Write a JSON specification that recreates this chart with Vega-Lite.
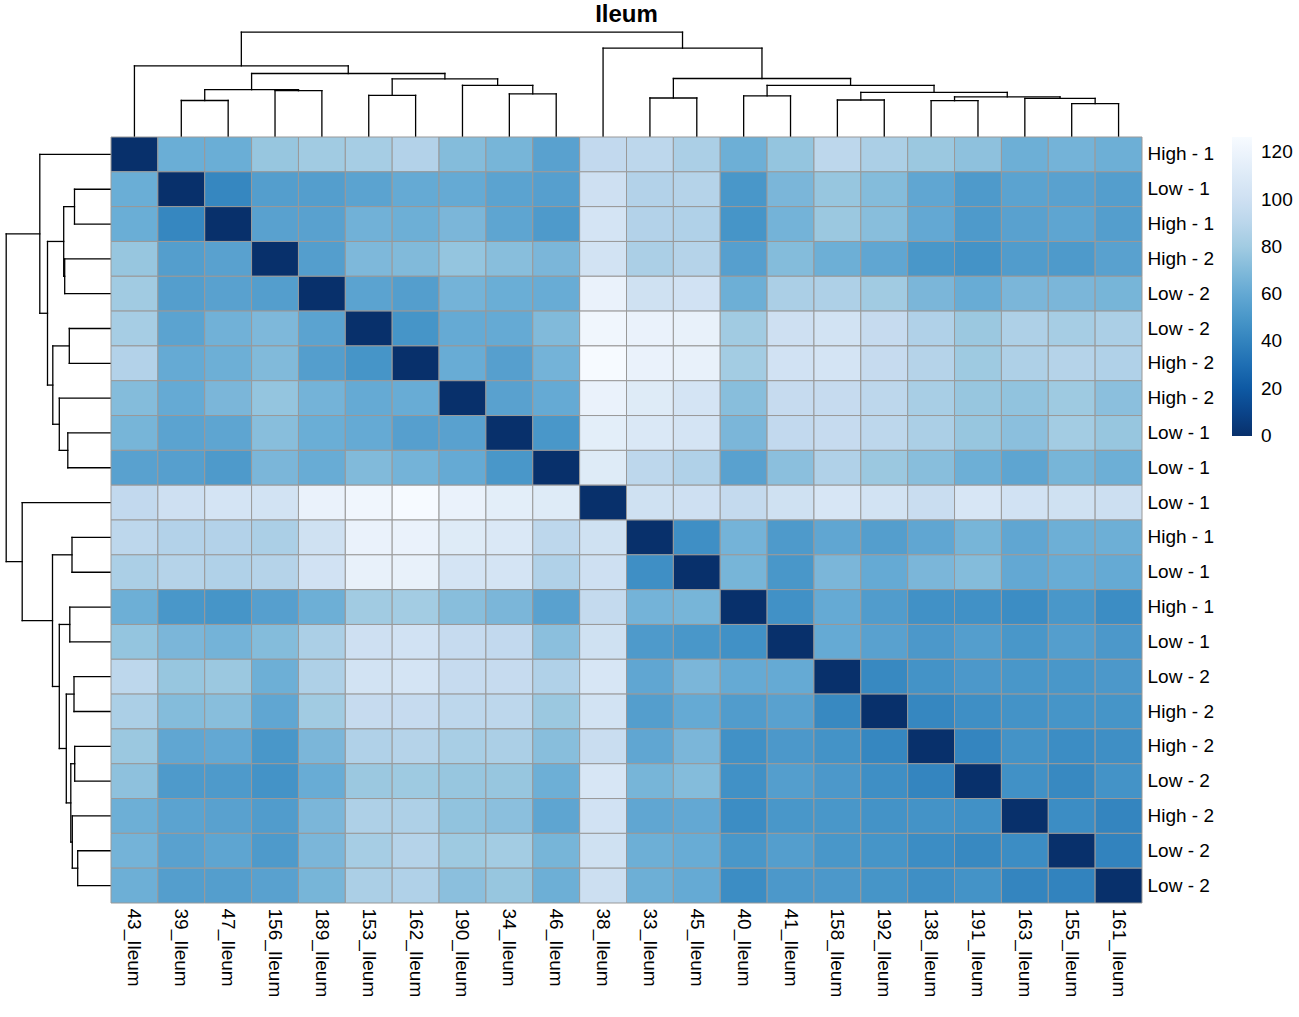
{
"$schema": "https://vega.github.io/schema/vega-lite/v6.json",
"padding": {"left": 5, "top": 3, "right": 0, "bottom": 0},
"config": {"view": {"stroke": null}, "concat": {"spacing": 0}, "font": "Liberation Sans"},
"spacing": 0,
"bounds": "flush",
"columns": 2,
"datasets": {
"tree": [
{"a":1.5,"ha":0,"b":2.5,"hb":0,"h":36.5},
{"a":3.5,"ha":0,"b":4.5,"hb":0,"h":46.3},
{"a":2,"ha":36.5,"b":4,"hb":46.3,"h":47.3},
{"a":5.5,"ha":0,"b":6.5,"hb":0,"h":41.7},
{"a":8.5,"ha":0,"b":9.5,"hb":0,"h":43.2},
{"a":7.5,"ha":0,"b":9,"hb":43.2,"h":51.7},
{"a":6,"ha":41.7,"b":8.25,"hb":51.7,"h":58.2},
{"a":3,"ha":47.3,"b":7.125,"hb":58.2,"h":63.5},
{"a":0.5,"ha":0,"b":5.0625,"hb":63.5,"h":71.2},
{"a":11.5,"ha":0,"b":12.5,"hb":0,"h":39},
{"a":13.5,"ha":0,"b":14.5,"hb":0,"h":41.2},
{"a":15.5,"ha":0,"b":16.5,"hb":0,"h":37},
{"a":17.5,"ha":0,"b":18.5,"hb":0,"h":36.3},
{"a":20.5,"ha":0,"b":21.5,"hb":0,"h":33.3},
{"a":19.5,"ha":0,"b":21,"hb":33.3,"h":38.7},
{"a":18,"ha":36.3,"b":20.25,"hb":38.7,"h":40.2},
{"a":16,"ha":37,"b":19.125,"hb":40.2,"h":44.7},
{"a":14,"ha":41.2,"b":17.5625,"hb":44.7,"h":51.7},
{"a":12,"ha":39,"b":15.78125,"hb":51.7,"h":58.5},
{"a":10.5,"ha":0,"b":13.890625,"hb":58.5,"h":88.8},
{"a":2.78125,"ha":71.2,"b":12.1953125,"hb":88.8,"h":104.8}
],
"cells": [
{"r":0,"c":0,"v":0},{"r":0,"c":1,"v":63},{"r":0,"c":2,"v":63},{"r":0,"c":3,"v":77},{"r":0,"c":4,"v":80},{"r":0,"c":5,"v":82},{"r":0,"c":6,"v":87},{"r":0,"c":7,"v":71},{"r":0,"c":8,"v":67},{"r":0,"c":9,"v":56},{"r":0,"c":10,"v":93},{"r":0,"c":11,"v":91},{"r":0,"c":12,"v":84},{"r":0,"c":13,"v":64},{"r":0,"c":14,"v":76},{"r":0,"c":15,"v":91},{"r":0,"c":16,"v":84},{"r":0,"c":17,"v":78},{"r":0,"c":18,"v":74},{"r":0,"c":19,"v":64},{"r":0,"c":20,"v":66},{"r":0,"c":21,"v":64},
{"r":1,"c":0,"v":63},{"r":1,"c":1,"v":0},{"r":1,"c":2,"v":42},{"r":1,"c":3,"v":54},{"r":1,"c":4,"v":54},{"r":1,"c":5,"v":57},{"r":1,"c":6,"v":61},{"r":1,"c":7,"v":61},{"r":1,"c":8,"v":57},{"r":1,"c":9,"v":55},{"r":1,"c":10,"v":100},{"r":1,"c":11,"v":87},{"r":1,"c":12,"v":88},{"r":1,"c":13,"v":50},{"r":1,"c":14,"v":68},{"r":1,"c":15,"v":77},{"r":1,"c":16,"v":71},{"r":1,"c":17,"v":59},{"r":1,"c":18,"v":52},{"r":1,"c":19,"v":57},{"r":1,"c":20,"v":56},{"r":1,"c":21,"v":54},
{"r":2,"c":0,"v":63},{"r":2,"c":1,"v":42},{"r":2,"c":2,"v":0},{"r":2,"c":3,"v":56},{"r":2,"c":4,"v":56},{"r":2,"c":5,"v":65},{"r":2,"c":6,"v":64},{"r":2,"c":7,"v":68},{"r":2,"c":8,"v":58},{"r":2,"c":9,"v":52},{"r":2,"c":10,"v":104},{"r":2,"c":11,"v":87},{"r":2,"c":12,"v":86},{"r":2,"c":13,"v":49},{"r":2,"c":14,"v":66},{"r":2,"c":15,"v":78},{"r":2,"c":16,"v":72},{"r":2,"c":17,"v":60},{"r":2,"c":18,"v":52},{"r":2,"c":19,"v":56},{"r":2,"c":20,"v":58},{"r":2,"c":21,"v":54},
{"r":3,"c":0,"v":77},{"r":3,"c":1,"v":54},{"r":3,"c":2,"v":56},{"r":3,"c":3,"v":0},{"r":3,"c":4,"v":54},{"r":3,"c":5,"v":69},{"r":3,"c":6,"v":70},{"r":3,"c":7,"v":76},{"r":3,"c":8,"v":72},{"r":3,"c":9,"v":68},{"r":3,"c":10,"v":103},{"r":3,"c":11,"v":84},{"r":3,"c":12,"v":88},{"r":3,"c":13,"v":55},{"r":3,"c":14,"v":71},{"r":3,"c":15,"v":64},{"r":3,"c":16,"v":59},{"r":3,"c":17,"v":50},{"r":3,"c":18,"v":48},{"r":3,"c":19,"v":53},{"r":3,"c":20,"v":52},{"r":3,"c":21,"v":56},
{"r":4,"c":0,"v":80},{"r":4,"c":1,"v":54},{"r":4,"c":2,"v":56},{"r":4,"c":3,"v":54},{"r":4,"c":4,"v":0},{"r":4,"c":5,"v":57},{"r":4,"c":6,"v":54},{"r":4,"c":7,"v":66},{"r":4,"c":8,"v":63},{"r":4,"c":9,"v":62},{"r":4,"c":10,"v":118},{"r":4,"c":11,"v":101},{"r":4,"c":12,"v":102},{"r":4,"c":13,"v":64},{"r":4,"c":14,"v":84},{"r":4,"c":15,"v":85},{"r":4,"c":16,"v":80},{"r":4,"c":17,"v":68},{"r":4,"c":18,"v":62},{"r":4,"c":19,"v":68},{"r":4,"c":20,"v":68},{"r":4,"c":21,"v":67},
{"r":5,"c":0,"v":82},{"r":5,"c":1,"v":57},{"r":5,"c":2,"v":65},{"r":5,"c":3,"v":69},{"r":5,"c":4,"v":57},{"r":5,"c":5,"v":0},{"r":5,"c":6,"v":49},{"r":5,"c":7,"v":61},{"r":5,"c":8,"v":61},{"r":5,"c":9,"v":70},{"r":5,"c":10,"v":122},{"r":5,"c":11,"v":118},{"r":5,"c":12,"v":117},{"r":5,"c":13,"v":80},{"r":5,"c":14,"v":100},{"r":5,"c":15,"v":103},{"r":5,"c":16,"v":95},{"r":5,"c":17,"v":86},{"r":5,"c":18,"v":78},{"r":5,"c":19,"v":85},{"r":5,"c":20,"v":82},{"r":5,"c":21,"v":84},
{"r":6,"c":0,"v":87},{"r":6,"c":1,"v":61},{"r":6,"c":2,"v":64},{"r":6,"c":3,"v":70},{"r":6,"c":4,"v":54},{"r":6,"c":5,"v":49},{"r":6,"c":6,"v":0},{"r":6,"c":7,"v":62},{"r":6,"c":8,"v":55},{"r":6,"c":9,"v":66},{"r":6,"c":10,"v":126},{"r":6,"c":11,"v":118},{"r":6,"c":12,"v":117},{"r":6,"c":13,"v":81},{"r":6,"c":14,"v":102},{"r":6,"c":15,"v":104},{"r":6,"c":16,"v":95},{"r":6,"c":17,"v":88},{"r":6,"c":18,"v":79},{"r":6,"c":19,"v":85},{"r":6,"c":20,"v":88},{"r":6,"c":21,"v":86},
{"r":7,"c":0,"v":71},{"r":7,"c":1,"v":61},{"r":7,"c":2,"v":68},{"r":7,"c":3,"v":76},{"r":7,"c":4,"v":66},{"r":7,"c":5,"v":61},{"r":7,"c":6,"v":62},{"r":7,"c":7,"v":0},{"r":7,"c":8,"v":56},{"r":7,"c":9,"v":61},{"r":7,"c":10,"v":118},{"r":7,"c":11,"v":111},{"r":7,"c":12,"v":104},{"r":7,"c":13,"v":72},{"r":7,"c":14,"v":95},{"r":7,"c":15,"v":95},{"r":7,"c":16,"v":91},{"r":7,"c":17,"v":83},{"r":7,"c":18,"v":77},{"r":7,"c":19,"v":75},{"r":7,"c":20,"v":79},{"r":7,"c":21,"v":73},
{"r":8,"c":0,"v":67},{"r":8,"c":1,"v":57},{"r":8,"c":2,"v":58},{"r":8,"c":3,"v":72},{"r":8,"c":4,"v":63},{"r":8,"c":5,"v":61},{"r":8,"c":6,"v":55},{"r":8,"c":7,"v":56},{"r":8,"c":8,"v":0},{"r":8,"c":9,"v":50},{"r":8,"c":10,"v":114},{"r":8,"c":11,"v":108},{"r":8,"c":12,"v":104},{"r":8,"c":13,"v":68},{"r":8,"c":14,"v":93},{"r":8,"c":15,"v":95},{"r":8,"c":16,"v":91},{"r":8,"c":17,"v":84},{"r":8,"c":18,"v":77},{"r":8,"c":19,"v":73},{"r":8,"c":20,"v":81},{"r":8,"c":21,"v":77},
{"r":9,"c":0,"v":56},{"r":9,"c":1,"v":55},{"r":9,"c":2,"v":52},{"r":9,"c":3,"v":68},{"r":9,"c":4,"v":62},{"r":9,"c":5,"v":70},{"r":9,"c":6,"v":66},{"r":9,"c":7,"v":61},{"r":9,"c":8,"v":50},{"r":9,"c":9,"v":0},{"r":9,"c":10,"v":111},{"r":9,"c":11,"v":91},{"r":9,"c":12,"v":86},{"r":9,"c":13,"v":56},{"r":9,"c":14,"v":73},{"r":9,"c":15,"v":86},{"r":9,"c":16,"v":78},{"r":9,"c":17,"v":72},{"r":9,"c":18,"v":64},{"r":9,"c":19,"v":58},{"r":9,"c":20,"v":67},{"r":9,"c":21,"v":64},
{"r":10,"c":0,"v":93},{"r":10,"c":1,"v":100},{"r":10,"c":2,"v":104},{"r":10,"c":3,"v":103},{"r":10,"c":4,"v":118},{"r":10,"c":5,"v":122},{"r":10,"c":6,"v":126},{"r":10,"c":7,"v":118},{"r":10,"c":8,"v":114},{"r":10,"c":9,"v":111},{"r":10,"c":10,"v":0},{"r":10,"c":11,"v":101},{"r":10,"c":12,"v":100},{"r":10,"c":13,"v":94},{"r":10,"c":14,"v":101},{"r":10,"c":15,"v":106},{"r":10,"c":16,"v":103},{"r":10,"c":17,"v":97},{"r":10,"c":18,"v":106},{"r":10,"c":19,"v":102},{"r":10,"c":20,"v":101},{"r":10,"c":21,"v":99},
{"r":11,"c":0,"v":91},{"r":11,"c":1,"v":87},{"r":11,"c":2,"v":87},{"r":11,"c":3,"v":84},{"r":11,"c":4,"v":101},{"r":11,"c":5,"v":118},{"r":11,"c":6,"v":118},{"r":11,"c":7,"v":111},{"r":11,"c":8,"v":108},{"r":11,"c":9,"v":91},{"r":11,"c":10,"v":101},{"r":11,"c":11,"v":0},{"r":11,"c":12,"v":46},{"r":11,"c":13,"v":66},{"r":11,"c":14,"v":52},{"r":11,"c":15,"v":59},{"r":11,"c":16,"v":54},{"r":11,"c":17,"v":59},{"r":11,"c":18,"v":67},{"r":11,"c":19,"v":59},{"r":11,"c":20,"v":64},{"r":11,"c":21,"v":64},
{"r":12,"c":0,"v":84},{"r":12,"c":1,"v":88},{"r":12,"c":2,"v":86},{"r":12,"c":3,"v":88},{"r":12,"c":4,"v":102},{"r":12,"c":5,"v":117},{"r":12,"c":6,"v":117},{"r":12,"c":7,"v":104},{"r":12,"c":8,"v":104},{"r":12,"c":9,"v":86},{"r":12,"c":10,"v":100},{"r":12,"c":11,"v":46},{"r":12,"c":12,"v":0},{"r":12,"c":13,"v":67},{"r":12,"c":14,"v":50},{"r":12,"c":15,"v":68},{"r":12,"c":16,"v":61},{"r":12,"c":17,"v":68},{"r":12,"c":18,"v":71},{"r":12,"c":19,"v":60},{"r":12,"c":20,"v":62},{"r":12,"c":21,"v":61},
{"r":13,"c":0,"v":64},{"r":13,"c":1,"v":50},{"r":13,"c":2,"v":49},{"r":13,"c":3,"v":55},{"r":13,"c":4,"v":64},{"r":13,"c":5,"v":80},{"r":13,"c":6,"v":81},{"r":13,"c":7,"v":72},{"r":13,"c":8,"v":68},{"r":13,"c":9,"v":56},{"r":13,"c":10,"v":94},{"r":13,"c":11,"v":66},{"r":13,"c":12,"v":67},{"r":13,"c":13,"v":0},{"r":13,"c":14,"v":47},{"r":13,"c":15,"v":61},{"r":13,"c":16,"v":53},{"r":13,"c":17,"v":47},{"r":13,"c":18,"v":47},{"r":13,"c":19,"v":45},{"r":13,"c":20,"v":50},{"r":13,"c":21,"v":45},
{"r":14,"c":0,"v":76},{"r":14,"c":1,"v":68},{"r":14,"c":2,"v":66},{"r":14,"c":3,"v":71},{"r":14,"c":4,"v":84},{"r":14,"c":5,"v":100},{"r":14,"c":6,"v":102},{"r":14,"c":7,"v":95},{"r":14,"c":8,"v":93},{"r":14,"c":9,"v":73},{"r":14,"c":10,"v":101},{"r":14,"c":11,"v":52},{"r":14,"c":12,"v":50},{"r":14,"c":13,"v":47},{"r":14,"c":14,"v":0},{"r":14,"c":15,"v":61},{"r":14,"c":16,"v":56},{"r":14,"c":17,"v":51},{"r":14,"c":18,"v":54},{"r":14,"c":19,"v":50},{"r":14,"c":20,"v":54},{"r":14,"c":21,"v":51},
{"r":15,"c":0,"v":91},{"r":15,"c":1,"v":77},{"r":15,"c":2,"v":78},{"r":15,"c":3,"v":64},{"r":15,"c":4,"v":85},{"r":15,"c":5,"v":103},{"r":15,"c":6,"v":104},{"r":15,"c":7,"v":95},{"r":15,"c":8,"v":95},{"r":15,"c":9,"v":86},{"r":15,"c":10,"v":106},{"r":15,"c":11,"v":59},{"r":15,"c":12,"v":68},{"r":15,"c":13,"v":61},{"r":15,"c":14,"v":61},{"r":15,"c":15,"v":0},{"r":15,"c":16,"v":43},{"r":15,"c":17,"v":48},{"r":15,"c":18,"v":51},{"r":15,"c":19,"v":50},{"r":15,"c":20,"v":50},{"r":15,"c":21,"v":51},
{"r":16,"c":0,"v":84},{"r":16,"c":1,"v":71},{"r":16,"c":2,"v":72},{"r":16,"c":3,"v":59},{"r":16,"c":4,"v":80},{"r":16,"c":5,"v":95},{"r":16,"c":6,"v":95},{"r":16,"c":7,"v":91},{"r":16,"c":8,"v":91},{"r":16,"c":9,"v":78},{"r":16,"c":10,"v":103},{"r":16,"c":11,"v":54},{"r":16,"c":12,"v":61},{"r":16,"c":13,"v":53},{"r":16,"c":14,"v":56},{"r":16,"c":15,"v":43},{"r":16,"c":16,"v":0},{"r":16,"c":17,"v":42},{"r":16,"c":18,"v":46},{"r":16,"c":19,"v":48},{"r":16,"c":20,"v":49},{"r":16,"c":21,"v":49},
{"r":17,"c":0,"v":78},{"r":17,"c":1,"v":59},{"r":17,"c":2,"v":60},{"r":17,"c":3,"v":50},{"r":17,"c":4,"v":68},{"r":17,"c":5,"v":86},{"r":17,"c":6,"v":88},{"r":17,"c":7,"v":83},{"r":17,"c":8,"v":84},{"r":17,"c":9,"v":72},{"r":17,"c":10,"v":97},{"r":17,"c":11,"v":59},{"r":17,"c":12,"v":68},{"r":17,"c":13,"v":47},{"r":17,"c":14,"v":51},{"r":17,"c":15,"v":48},{"r":17,"c":16,"v":42},{"r":17,"c":17,"v":0},{"r":17,"c":18,"v":41},{"r":17,"c":19,"v":48},{"r":17,"c":20,"v":45},{"r":17,"c":21,"v":46},
{"r":18,"c":0,"v":74},{"r":18,"c":1,"v":52},{"r":18,"c":2,"v":52},{"r":18,"c":3,"v":48},{"r":18,"c":4,"v":62},{"r":18,"c":5,"v":78},{"r":18,"c":6,"v":79},{"r":18,"c":7,"v":77},{"r":18,"c":8,"v":77},{"r":18,"c":9,"v":64},{"r":18,"c":10,"v":106},{"r":18,"c":11,"v":67},{"r":18,"c":12,"v":71},{"r":18,"c":13,"v":47},{"r":18,"c":14,"v":54},{"r":18,"c":15,"v":51},{"r":18,"c":16,"v":46},{"r":18,"c":17,"v":41},{"r":18,"c":18,"v":0},{"r":18,"c":19,"v":47},{"r":18,"c":20,"v":43},{"r":18,"c":21,"v":48},
{"r":19,"c":0,"v":64},{"r":19,"c":1,"v":57},{"r":19,"c":2,"v":56},{"r":19,"c":3,"v":53},{"r":19,"c":4,"v":68},{"r":19,"c":5,"v":85},{"r":19,"c":6,"v":85},{"r":19,"c":7,"v":75},{"r":19,"c":8,"v":73},{"r":19,"c":9,"v":58},{"r":19,"c":10,"v":102},{"r":19,"c":11,"v":59},{"r":19,"c":12,"v":60},{"r":19,"c":13,"v":45},{"r":19,"c":14,"v":50},{"r":19,"c":15,"v":50},{"r":19,"c":16,"v":48},{"r":19,"c":17,"v":48},{"r":19,"c":18,"v":47},{"r":19,"c":19,"v":0},{"r":19,"c":20,"v":45},{"r":19,"c":21,"v":41},
{"r":20,"c":0,"v":66},{"r":20,"c":1,"v":56},{"r":20,"c":2,"v":58},{"r":20,"c":3,"v":52},{"r":20,"c":4,"v":68},{"r":20,"c":5,"v":82},{"r":20,"c":6,"v":88},{"r":20,"c":7,"v":79},{"r":20,"c":8,"v":81},{"r":20,"c":9,"v":67},{"r":20,"c":10,"v":101},{"r":20,"c":11,"v":64},{"r":20,"c":12,"v":62},{"r":20,"c":13,"v":50},{"r":20,"c":14,"v":54},{"r":20,"c":15,"v":50},{"r":20,"c":16,"v":49},{"r":20,"c":17,"v":45},{"r":20,"c":18,"v":43},{"r":20,"c":19,"v":45},{"r":20,"c":20,"v":0},{"r":20,"c":21,"v":40},
{"r":21,"c":0,"v":64},{"r":21,"c":1,"v":54},{"r":21,"c":2,"v":54},{"r":21,"c":3,"v":56},{"r":21,"c":4,"v":67},{"r":21,"c":5,"v":84},{"r":21,"c":6,"v":86},{"r":21,"c":7,"v":73},{"r":21,"c":8,"v":77},{"r":21,"c":9,"v":64},{"r":21,"c":10,"v":99},{"r":21,"c":11,"v":64},{"r":21,"c":12,"v":61},{"r":21,"c":13,"v":45},{"r":21,"c":14,"v":51},{"r":21,"c":15,"v":51},{"r":21,"c":16,"v":49},{"r":21,"c":17,"v":46},{"r":21,"c":18,"v":48},{"r":21,"c":19,"v":41},{"r":21,"c":20,"v":40},{"r":21,"c":21,"v":0}
]
},
"concat": [
{"width": 105, "height": 105, "data": {"values": []}, "mark": "point"},
{
"width": 1031, "height": 105,
"title": {"text": "Ileum", "fontSize": 24, "fontWeight": "bold", "font": "Liberation Sans", "color": "#000000", "anchor": "middle", "offset": 4},
"data": {"name": "tree"},
"layer": [
{"mark": {"type": "rule", "color": "#000000", "strokeWidth": 1.3, "strokeCap": "square"},
 "encoding": {"x": {"field": "a", "type": "quantitative", "scale": {"domain": [0, 22], "nice": false, "zero": false}, "axis": null},
              "x2": {"field": "b"},
              "y": {"field": "h", "type": "quantitative", "scale": {"domain": [0, 105], "nice": false}, "axis": null}}},
{"mark": {"type": "rule", "color": "#000000", "strokeWidth": 1.3, "strokeCap": "square"},
 "encoding": {"x": {"field": "a", "type": "quantitative"},
              "y": {"field": "ha", "type": "quantitative"},
              "y2": {"field": "h"}}},
{"mark": {"type": "rule", "color": "#000000", "strokeWidth": 1.3, "strokeCap": "square"},
 "encoding": {"x": {"field": "b", "type": "quantitative"},
              "y": {"field": "hb", "type": "quantitative"},
              "y2": {"field": "h"}}}
]
},
{
"width": 105, "height": 766,
"data": {"name": "tree"},
"layer": [
{"mark": {"type": "rule", "color": "#000000", "strokeWidth": 1.3, "strokeCap": "square"},
 "encoding": {"y": {"field": "a", "type": "quantitative", "scale": {"domain": [0, 22], "nice": false, "zero": false, "reverse": true}, "axis": null},
              "y2": {"field": "b"},
              "x": {"field": "h", "type": "quantitative", "scale": {"domain": [0, 105], "nice": false, "reverse": true}, "axis": null}}},
{"mark": {"type": "rule", "color": "#000000", "strokeWidth": 1.3, "strokeCap": "square"},
 "encoding": {"y": {"field": "a", "type": "quantitative"},
              "x": {"field": "ha", "type": "quantitative"},
              "x2": {"field": "h"}}},
{"mark": {"type": "rule", "color": "#000000", "strokeWidth": 1.3, "strokeCap": "square"},
 "encoding": {"y": {"field": "b", "type": "quantitative"},
              "x": {"field": "hb", "type": "quantitative"},
              "x2": {"field": "h"}}}
]
},
{
"width": 1031, "height": 766,
"data": {"name": "cells"},
"mark": {"type": "rect", "stroke": "#999999", "strokeWidth": 1},
"encoding": {
"x": {"field": "c", "type": "ordinal", "scale": {"paddingInner": 0, "paddingOuter": 0},
      "axis": {"orient": "bottom", "title": null, "ticks": false, "tickSize": 0, "domain": false, "labelAngle": 90, "labelAlign": "left", "labelBaseline": "middle", "labelPadding": 5, "labelFontSize": 19, "labelColor": "#000000", "labelFont": "Liberation Sans",
               "labelExpr": "['43_Ileum','39_Ileum','47_Ileum','156_Ileum','189_Ileum','153_Ileum','162_Ileum','190_Ileum','34_Ileum','46_Ileum','38_Ileum','33_Ileum','45_Ileum','40_Ileum','41_Ileum','158_Ileum','192_Ileum','138_Ileum','191_Ileum','163_Ileum','155_Ileum','161_Ileum'][datum.value]"}},
"y": {"field": "r", "type": "ordinal", "scale": {"paddingInner": 0, "paddingOuter": 0},
      "axis": {"orient": "right", "title": null, "ticks": false, "tickSize": 0, "domain": false, "labelPadding": 5, "labelFontSize": 19, "labelColor": "#000000", "labelFont": "Liberation Sans", "labelAlign": "left", "labelBaseline": "middle",
               "labelExpr": "['High - 1','Low - 1','High - 1','High - 2','Low - 2','Low - 2','High - 2','High - 2','Low - 1','Low - 1','Low - 1','High - 1','Low - 1','High - 1','Low - 1','Low - 2','High - 2','High - 2','Low - 2','High - 2','Low - 2','Low - 2'][datum.value]"}},
"color": {"field": "v", "type": "quantitative",
          "scale": {"domain": [0, 15.8125, 31.625, 47.4375, 63.25, 79.0625, 94.875, 110.6875, 126.5], "range": ["#08306B", "#08519C", "#2171B5", "#4292C6", "#6BAED6", "#9ECAE1", "#C6DBEF", "#DEEBF7", "#F7FBFF"], "nice": false, "zero": false},
          "legend": {"title": null, "orient": "none", "legendX": 1226, "legendY": 105, "direction": "vertical", "gradientLength": 299, "gradientThickness": 20, "gradientStrokeWidth": 0, "values": [0, 20, 40, 60, 80, 100, 120], "labelFontSize": 19, "labelFont": "Liberation Sans", "labelColor": "#000000", "labelOffset": 9, "labelBaseline": "middle", "padding": 0,
                     "encode": {"labels": {"update": {"baseline": {"value": "middle"}}}}}}
}
}
]
}
